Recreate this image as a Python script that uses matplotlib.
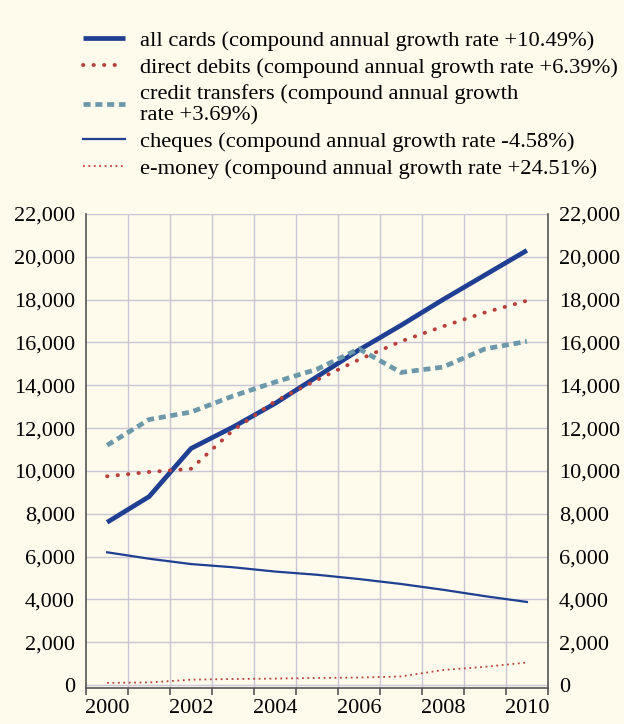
import matplotlib
matplotlib.use('Agg')
import matplotlib.pyplot as plt
from matplotlib.ticker import FuncFormatter, FixedLocator

# Data (millions of transactions)
years = [2000, 2001, 2002, 2003, 2004, 2005, 2006, 2007, 2008, 2009, 2010]
all_cards = [7600, 8800, 11050, 12050, 13150, 14400, 15650, 16800, 18000, 19150, 20300]
direct_debits = [9750, 9950, 10100, 11900, 13250, 14250, 15200, 16050, 16750, 17400, 17950]
credit_transfers = [11200, 12400, 12750, 13500, 14150, 14750, 15700, 14600, 14850, 15700, 16050]
cheques = [6200, 5900, 5650, 5500, 5300, 5150, 4950, 4720, 4450, 4150, 3880]
e_money = [100, 120, 250, 280, 300, 330, 350, 400, 700, 850, 1050]

labels = [
    "all cards (compound annual growth rate +10.49%)",
    "direct debits (compound annual growth rate +6.39%)",
    "credit transfers (compound annual growth\nrate +3.69%)",
    "cheques (compound annual growth rate -4.58%)",
    "e-money (compound annual growth rate +24.51%)",
]

bg = '#fefbec'
grid_c = '#c9c4d6'
dark_blue = '#1f3f92'
red = '#b8403a'
teal = '#6b98aa'

plt.rcParams['font.family'] = ['Liberation Serif', 'DejaVu Serif']

fig = plt.figure(figsize=(6.24, 7.24), dpi=100)
fig.patch.set_facecolor(bg)
ax = fig.add_axes([0.138, 0.0497, 0.740, 0.6547])
ax.set_facecolor(bg)

x = list(range(len(years)))
h1, = ax.plot(x, all_cards, color=dark_blue, lw=3.4, solid_capstyle='butt')
h2, = ax.plot(x, direct_debits, color=red, lw=2.8, ls=(0, (0.1, 2.6)),
              dash_capstyle='round')
h3, = ax.plot(x, credit_transfers, color=teal, lw=3.4, ls=(0, (1.5, 1.0)))
h4, = ax.plot(x, cheques, color=dark_blue, lw=1.6)
h5, = ax.plot(x, e_money, color=red, lw=1.3, ls=(0, (1, 2)))

ax.set_xlim(-0.5, 10.5)
ax.set_ylim(-140, 22000)

ax.xaxis.set_major_locator(FixedLocator(x[::2]))
ax.set_xticklabels([str(y) for y in years[::2]])
ax.xaxis.set_minor_locator(FixedLocator([i - 0.5 for i in range(12)]))
ax.tick_params(axis='x', which='major', length=0, labelsize=16, pad=8)
ax.tick_params(axis='x', which='minor', length=5, width=1.2, color='#555555', direction='out')

ax.set_yticks(range(0, 22001, 2000))
ax.yaxis.set_major_formatter(FuncFormatter(lambda v, p: f"{int(v):,}"))
ax.tick_params(axis='y', length=0, labelsize=16, pad=8, labelleft=True, labelright=True)

for v in range(0, 22001, 2000):
    ax.axhline(v, color=grid_c, lw=1.0, zorder=0)
for b in range(1, 11):
    ax.axvline(b - 0.5, color=grid_c, lw=1.0, zorder=0)

ax.spines['top'].set_visible(False)
for s in ['left', 'right', 'bottom']:
    ax.spines[s].set_color('#555555')
    ax.spines[s].set_linewidth(1.2)

fig.legend([h1, h2, h3, h4, h5], labels, loc='upper left',
           bbox_to_anchor=(0.133, 0.958), frameon=False, fontsize=16.2,
           handlelength=1.85, handletextpad=0.68, labelspacing=0.26,
           borderpad=0, borderaxespad=0)

plt.savefig('out.png', dpi=100, facecolor=bg)
